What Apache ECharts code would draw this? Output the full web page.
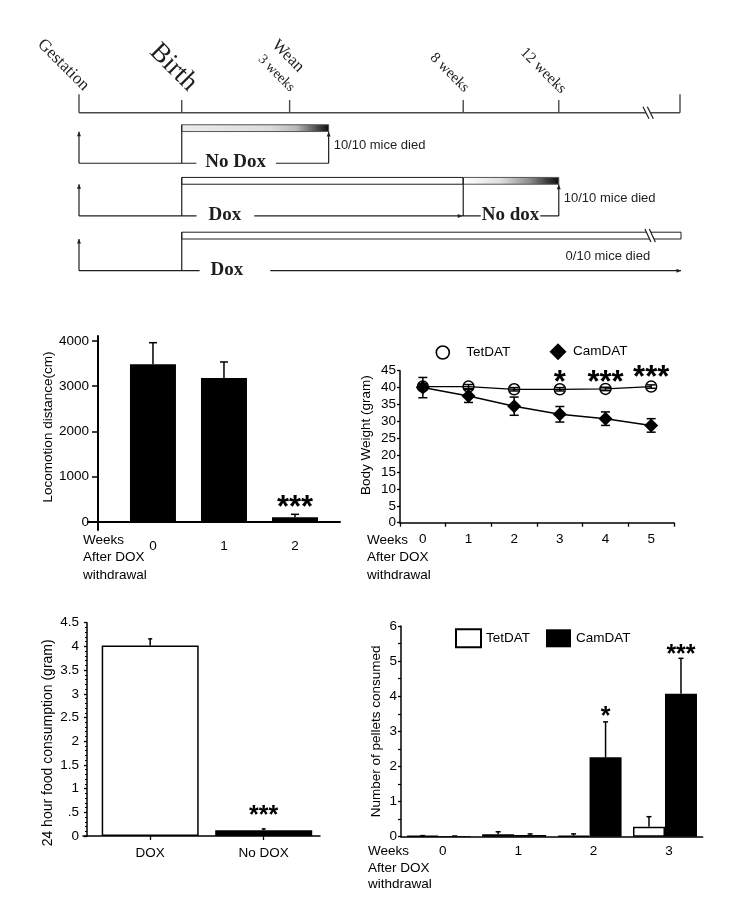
<!DOCTYPE html>
<html>
<head>
<meta charset="utf-8">
<script src="https://cdn.jsdelivr.net/npm/echarts@6/dist/echarts.min.js"></script>
<style>
html,body{margin:0;padding:0;background:#fff;}
#c{width:739px;height:900px;}
</style>
</head>
<body>
<div id="c"></div>
<script>
const SANS = '"Liberation Sans", Arial, Helvetica, sans-serif';
const SERIF = '"Liberation Serif", "Times New Roman", Times, serif';

// ---------- Timeline schematic (x = schematic position along life span) ----------
const milestoneTicks = [0, 10, 20.5, 37.4, 46.7, 58.5];
const milestoneLabels = ['Gestation', 'Birth', 'Wean', '3 weeks', '8 weeks', '12 weeks'];
const milestoneLabelPos = [0, 10, 20.5, 20.5, 37.4, 46.7];
const timelineBreak = 55.4;
const regimenRows = [0.96, 1.96, 3.0];
const regimenPhaseLabels = [['No Dox'], ['Dox', 'No dox'], ['Dox']];
const regimenPhaseFrom = [[10], [10, 37.4], [10]];
const regimenPhaseTo = [[24.3], [37.4, 46.7], [58.6]];
const regimenPhaseLabelAt = [[15.25], [14.2, 42.0], [14.4]];
const regimenPhaseDox = [[false], [true, false], [true]];
const regimenOutcome = ['10/10 mice died', '10/10 mice died', '0/10 mice died'];

// ---------- Panel A: locomotion ----------
const locWeeks = [0, 1, 2];
const locMean = [3485, 3182, 104];
const locErrTop = [3962, 3536, 170];
const locSig = ['', '', '***'];
const locSigPos = [null, null, 449];
const locTicks = [0, 1000, 2000, 3000, 4000];

// ---------- Panel B: body weight ----------
const bwWeeks = ['0', '1', '2', '3', '4', '5'];
const tetMean = [40.3, 40.3, 39.5, 39.5, 39.6, 40.3];
const tetErr = [0.8, 0.6, 0.5, 0.5, 0.5, 0.5];
const camMean = [40.0, 37.5, 34.5, 32.1, 30.8, 28.8];
const camErr = [3.0, 1.9, 2.7, 2.3, 2.0, 2.0];
const bwSig = ['', '', '', '*', '***', '***'];
const bwSigPos = [null, null, null, 43.2, 43.2, 44.8];

// ---------- Panel C: food consumption ----------
const foodGroups = ['DOX', 'No DOX'];
const foodMean = [4.02, 0.12];
const foodErrTop = [4.16, 0.15];
const foodSig = ['', '***'];
const foodSigPos = [null, 0.55];

// ---------- Panel D: pellets ----------
const pelletWeeks = ['0', '1', '2', '3'];
const pelletTet = [0.02, 0.07, 0.03, 0.285];
const pelletTetErrTop = [0.03, 0.14, 0.08, 0.57];
const pelletCam = [0.02, 0.05, 2.26, 4.07];
const pelletCamErrTop = [0.02, 0.08, 3.27, 5.08];
const pelletSig = ['', '', '*', '***'];
const pelletSigPos = [null, null, 3.56, 5.34];

// ---------- styles ----------
const INK = '#1e1e1e';
const LBL = {color: '#000', fontFamily: SANS, fontSize: 13.5};
const NAME = {color: '#000', fontFamily: SANS, fontSize: 13.5};
const AXL = (w) => ({color: '#000', width: w || 1.5});
const LABEL_STYLE = {
  'Gestation': {dx: -15.7, dy: -47.7, size: 17},
  'Birth': {dx: -8.4, dy: -45.4, size: 27},
  'Wean': {dx: -1.7, dy: -56.7, size: 17},
  '3 weeks': {dx: -13.3, dy: -39.4, size: 14},
  '8 weeks': {dx: -13.7, dy: -40, size: 15},
  '12 weeks': {dx: -15.7, dy: -42, size: 15.5}
};
const PHASE_PAD = {'0-0': [9, 10], '1-0': [12, 13], '1-1': [1, 1], '2-0': [11, 27]};
const BAR_TOP = -38.5, BAR_H = 6.8, ARROW_TOP = -31.6;

function seg(x1, y1, x2, y2, w, c) {
  return {type: 'line', shape: {x1, y1, x2, y2}, style: {stroke: c || INK, lineWidth: w || 1.2}};
}
function arrowHead(x, y, dir) {
  const L = 4.5, W = 2;
  const pts = dir === 'up' ? [[x, y], [x - W, y + L], [x + W, y + L]] : [[x, y], [x - L, y - W], [x - L, y + W]];
  return {type: 'polygon', shape: {points: pts}, style: {fill: INK}};
}
function breakMark(x, y, h) {
  const a = 2.2, s = 3;
  return [
    {type: 'polygon', shape: {points: [[x - a - s, y - h / 2], [x + a - s, y - h / 2], [x + a + s, y + h / 2], [x - a + s, y + h / 2]]}, style: {fill: '#fff'}},
    seg(x - a - s, y - h / 2, x - a + s, y + h / 2, 1.2),
    seg(x + a - s, y - h / 2, x + a + s, y + h / 2, 1.2)
  ];
}
function fade(early) {
  return new echarts.graphic.LinearGradient(0, 0, 1, 0, early ? [
    {offset: 0, color: '#ececec'}, {offset: 0.6, color: '#dcdcdc'}, {offset: 0.78, color: '#b8b8b8'},
    {offset: 0.92, color: '#4a4a4a'}, {offset: 1, color: '#0a0a0a'}
  ] : [
    {offset: 0, color: '#ffffff'}, {offset: 0.4, color: '#dedede'}, {offset: 0.7, color: '#8a8a8a'},
    {offset: 0.9, color: '#333'}, {offset: 1, color: '#0a0a0a'}
  ]);
}

function renderTimeline(params, api) {
  const children = [];
  const idx = params.dataIndex;
  if (idx === 0) {
    const yA = api.coord([0, 0])[1];
    const xs = v => api.coord([v, 0])[0];
    const last = milestoneTicks.length - 1;
    children.push(seg(xs(milestoneTicks[0]), yA, xs(milestoneTicks[last]), yA, 1.6, '#4a4a4a'));
    milestoneTicks.forEach((t, i) => {
      const h = (i === 0 || i === last) ? 18.4 : 12.7;
      children.push(seg(xs(t), yA, xs(t), yA - h, 1.4, '#4a4a4a'));
    });
    breakMark(xs(timelineBreak), yA, 12).forEach(c => children.push(c));
    milestoneLabels.forEach((lab, i) => {
      const s = LABEL_STYLE[lab];
      children.push({
        type: 'text', x: xs(milestoneLabelPos[i]) + s.dx, y: yA + s.dy, rotation: -Math.PI / 4,
        style: {text: lab, fontFamily: SERIF, fontSize: s.size, fill: INK, align: 'center', verticalAlign: 'middle'}
      });
    });
  } else {
    const r = idx - 1;
    const yv = regimenRows[r];
    const yB = api.coord([0, yv])[1];
    const x = v => api.coord([v, yv])[0];
    const n = regimenPhaseFrom[r].length;
    const start = regimenPhaseFrom[r][0];
    const end = regimenPhaseTo[r][n - 1];
    const lastDox = regimenPhaseDox[r][n - 1];
    for (let p = 0; p < n; p++) {
      const a = x(regimenPhaseFrom[r][p]), b = x(regimenPhaseTo[r][p]);
      const dox = regimenPhaseDox[r][p];
      children.push({
        type: 'rect', shape: {x: a, y: yB + BAR_TOP, width: b - a, height: BAR_H},
        style: {fill: dox ? '#fff' : fade(p === 0), stroke: dox ? INK : '#555', lineWidth: 1}
      });
    }
    children.push(seg(x(0), yB, x(0), yB + ARROW_TOP));
    children.push(arrowHead(x(0), yB + ARROW_TOP, 'up'));
    children.push(seg(x(start), yB, x(start), yB + BAR_TOP));
    children.push(seg(x(0), yB, x(end), yB));
    for (let p = 0; p < n - 1; p++) {
      const t = x(regimenPhaseTo[r][p]);
      children.push(seg(t, yB, t, yB + BAR_TOP));
      children.push(arrowHead(t - 1, yB, 'right'));
    }
    if (!lastDox) {
      children.push(seg(x(end), yB, x(end), yB + BAR_TOP + BAR_H));
      children.push(arrowHead(x(end), yB + BAR_TOP + BAR_H + 0.5, 'up'));
    } else {
      children.push(arrowHead(x(end), yB, 'right'));
    }
    if (end > timelineBreak) {
      breakMark(x(timelineBreak) + 2, yB + BAR_TOP + BAR_H / 2, 13).forEach(c => children.push(c));
    }
    for (let p = 0; p < n; p++) {
      const pad = PHASE_PAD[r + '-' + p];
      children.push({
        type: 'text', x: x(regimenPhaseLabelAt[r][p]) + (pad[1] - pad[0]) / 2, y: yB - 1,
        style: {
          text: regimenPhaseLabels[r][p], fontFamily: SERIF, fontWeight: 'bold', fontSize: 19, fill: INK,
          align: 'center', verticalAlign: 'middle', backgroundColor: '#fff', padding: [1, pad[1], 1, pad[0]]
        }
      });
    }
    if (!lastDox) {
      children.push({type: 'text', x: x(end) + 5, y: yB - 18,
        style: {text: regimenOutcome[r], fontFamily: SANS, fontSize: 13, fill: INK, align: 'left', verticalAlign: 'middle'}});
    } else {
      children.push({type: 'text', x: x(timelineBreak) + 2, y: yB - 14,
        style: {text: regimenOutcome[r], fontFamily: SANS, fontSize: 13, fill: INK, align: 'right', verticalAlign: 'middle'}});
    }
  }
  return {type: 'group', children};
}

function errorSeries(ai, rows, cap, dx, both, z) {
  return {
    type: 'custom', xAxisIndex: ai, yAxisIndex: ai, silent: true, z: z || 3, clip: false,
    data: rows, encode: {x: 0, y: [1, 2]},
    renderItem: (params, api) => {
      const xv = api.value(0);
      const p1 = api.coord([xv, api.value(1)]);
      const p2 = api.coord([xv, api.value(2)]);
      const cx = p1[0] + dx;
      const ch = [seg(cx, p1[1], cx, p2[1], 1.5, '#000'), seg(cx - cap / 2, p2[1], cx + cap / 2, p2[1], 1.5, '#000')];
      if (both) ch.push(seg(cx - cap / 2, p1[1], cx + cap / 2, p1[1], 1.5, '#000'));
      return {type: 'group', children: ch};
    }
  };
}
function starSeries(ai, xs, sig, pos, fontSize, dx) {
  const rows = [], texts = [];
  sig.forEach((s, i) => { if (s) { rows.push([xs[i], pos[i]]); texts.push(s); } });
  return {
    type: 'custom', xAxisIndex: ai, yAxisIndex: ai, silent: true, z: 4, clip: false,
    data: rows, encode: {x: 0, y: 1},
    renderItem: (params, api) => {
      const p = api.coord([api.value(0), api.value(1)]);
      return {type: 'text', x: p[0] + dx, y: p[1] + 0.23 * fontSize,
        style: {text: texts[params.dataIndex], fill: '#000', fontFamily: SANS, fontWeight: 'bold', fontSize: fontSize, align: 'center', verticalAlign: 'middle'}};
    }
  };
}

const chart = echarts.init(document.getElementById('c'), null, {renderer: 'canvas'});
const idxB = bwWeeks.map((w, i) => i);
const idxD = pelletWeeks.map((w, i) => i);
const idxC = foodGroups.map((g, i) => i);

const option = {
  animation: false,
  backgroundColor: '#fff',
  grid: [
    {left: 88, top: 336, width: 252, height: 194, containLabel: false, outerBoundsMode: 'none'},
    {left: 400, top: 370.7, width: 274, height: 152, containLabel: false, outerBoundsMode: 'none'},
    {left: 83, top: 622.7, width: 237, height: 213.3, containLabel: false, outerBoundsMode: 'none'},
    {left: 401, top: 626, width: 301.7, height: 210.7, containLabel: false, outerBoundsMode: 'none'},
    {left: 79, top: 112.7, width: 601, height: 158, containLabel: false, outerBoundsMode: 'none'}
  ],
  legend: [
    {data: [{name: 'TetDAT', icon: 'circle', itemStyle: {color: '#fff', borderColor: '#000', borderWidth: 1.6}}],
     left: 430.5, top: 340.2, itemWidth: 13, itemHeight: 13, selectedMode: false,
     textStyle: Object.assign({}, LBL, {padding: [0, 0, 0, 12]})},
    {data: [{name: 'CamDAT', icon: 'diamond', itemStyle: {color: '#000'}}],
     left: 544.5, top: 338.2, itemWidth: 17, itemHeight: 17, selectedMode: false,
     textStyle: Object.assign({}, LBL, {padding: [0, 0, 0, 1.5]})},
    {data: [{name: 'TetDAT ', icon: 'rect', itemStyle: {color: '#fff', borderColor: '#000', borderWidth: 2}},
            {name: 'CamDAT ', icon: 'rect', itemStyle: {color: '#000'}}],
     left: 450, top: 623.3, itemWidth: 25, itemHeight: 18, itemGap: 16, selectedMode: false,
     formatter: n => n.trim(), textStyle: LBL}
  ],
  xAxis: [
    {gridIndex: 0, type: 'value', min: -0.915, max: 2.634, splitLine: {show: false},
     axisLine: {show: true, onZero: true, lineStyle: AXL(2)}, axisTick: {show: false},
     axisLabel: Object.assign({customValues: locWeeks, margin: 9, formatter: v => String(v)}, LBL)},
    {gridIndex: 1, type: 'category', data: bwWeeks, boundaryGap: true,
     axisLine: {show: true, lineStyle: AXL(1.5)},
     axisTick: {show: true, length: 4, lineStyle: AXL(1.3)},
     axisLabel: Object.assign({margin: 10, interval: 0}, LBL)},
    {gridIndex: 2, type: 'value', min: -0.592, max: 1.496, splitLine: {show: false},
     axisLine: {show: true, onZero: true, lineStyle: AXL(1.5)},
     axisTick: {show: true, customValues: idxC, length: 4, lineStyle: AXL(1.3)},
     axisLabel: Object.assign({customValues: idxC, margin: 10, formatter: v => foodGroups[Math.round(v)]}, LBL)},
    {gridIndex: 3, type: 'category', data: pelletWeeks, boundaryGap: true,
     axisLine: {show: true, lineStyle: AXL(1.5)}, axisTick: {show: false},
     axisLabel: Object.assign({margin: 8, interval: 0, padding: [0, 0, 0, 8]}, LBL)},
    {gridIndex: 4, type: 'value', min: 0, max: 58.5, show: false}
  ],
  yAxis: [
    {gridIndex: 0, type: 'value', min: -177, max: 4110, offset: -10, splitLine: {show: false},
     axisLine: {show: true, onZero: false, lineStyle: AXL(2)},
     axisTick: {show: true, customValues: locTicks, length: 6, lineStyle: AXL(1.5)},
     axisLabel: Object.assign({customValues: locTicks, margin: 9, formatter: v => String(v)}, LBL),
     name: 'Locomotion distance(cm)', nameLocation: 'middle', nameGap: 41,
     nameTextStyle: Object.assign({}, NAME, {padding: [0, 0, 0, 12]})},
    {gridIndex: 1, type: 'value', min: 0, max: 45, interval: 5, splitLine: {show: false},
     axisLine: {show: true, lineStyle: AXL(1.5)},
     axisTick: {show: true, length: 3, lineStyle: AXL(1.3)},
     axisLabel: Object.assign({margin: 4}, LBL),
     name: 'Body Weight (gram)', nameLocation: 'middle', nameGap: 27,
     nameTextStyle: Object.assign({}, NAME, {padding: [0, 0, 0, 23]})},
    {gridIndex: 2, type: 'value', min: 0, max: 4.5, interval: 0.5, offset: -4, splitLine: {show: false},
     axisLine: {show: true, onZero: false, lineStyle: AXL(1.5)},
     axisTick: {show: true, length: 3, lineStyle: AXL(1.3)},
     minorTick: {show: true, splitNumber: 5, length: 2, lineStyle: AXL(1)},
     axisLabel: Object.assign({margin: 8, formatter: v => v === 0 ? '0' : String(v).replace(/^0\./, '.')}, LBL),
     name: '24 hour food consumption (gram)', nameLocation: 'middle', nameGap: 32,
     nameTextStyle: Object.assign({}, NAME, {fontSize: 14, padding: [0, 27, 0, 0]})},
    {gridIndex: 3, type: 'value', min: 0, max: 6, interval: 1, splitLine: {show: false},
     axisLine: {show: true, lineStyle: AXL(1.5)},
     axisTick: {show: true, length: 3, lineStyle: AXL(1.3)},
     minorTick: {show: true, splitNumber: 2, length: 3, lineStyle: AXL(1.2)},
     axisLabel: Object.assign({margin: 4}, LBL),
     name: 'Number of pellets consumed', nameLocation: 'middle', nameGap: 18,
     nameTextStyle: NAME},
    {gridIndex: 4, type: 'value', min: 0, max: 3, inverse: true, show: false}
  ],
  graphic: [
    {type: 'text', left: 83, top: 531.5, silent: true, style: {text: 'Weeks\nAfter DOX\nwithdrawal', fontFamily: SANS, fontSize: 13.5, lineHeight: 17.5, fill: '#000'}},
    {type: 'text', left: 367, top: 531.5, silent: true, style: {text: 'Weeks\nAfter DOX\nwithdrawal', fontFamily: SANS, fontSize: 13.5, lineHeight: 17.5, fill: '#000'}},
    {type: 'text', left: 368, top: 843.5, silent: true, style: {text: 'Weeks\nAfter DOX\nwithdrawal', fontFamily: SANS, fontSize: 13.5, lineHeight: 16.3, fill: '#000'}}
  ],
  series: [
    {type: 'bar', xAxisIndex: 0, yAxisIndex: 0, barWidth: 46, itemStyle: {color: '#000'},
     data: locWeeks.map((w, i) => [w, locMean[i]])},
    errorSeries(0, locWeeks.map((w, i) => [w, locMean[i], locErrTop[i]]), 8, 0, false),
    starSeries(0, locWeeks, locSig, locSigPos, 31, 0),
    errorSeries(1, idxB.map(i => [i, tetMean[i] - tetErr[i], tetMean[i] + tetErr[i]]), 9, 0, true, 1),
    errorSeries(1, idxB.map(i => [i, camMean[i] - camErr[i], camMean[i] + camErr[i]]), 9, 0, true, 1),
    {type: 'line', name: 'TetDAT', xAxisIndex: 1, yAxisIndex: 1, data: tetMean, z: 2,
     symbol: 'circle', symbolSize: 11,
     itemStyle: {color: 'rgba(255,255,255,0)', borderColor: '#000', borderWidth: 1.5},
     lineStyle: {color: '#000', width: 1.3}},
    {type: 'line', name: 'CamDAT', xAxisIndex: 1, yAxisIndex: 1, data: camMean, z: 3,
     symbol: 'diamond', symbolSize: 14, itemStyle: {color: '#000'},
     lineStyle: {color: '#000', width: 1.5}},
    starSeries(1, idxB, bwSig, bwSigPos, 31, 0),
    {type: 'bar', xAxisIndex: 2, yAxisIndex: 2, barWidth: 97,
     data: idxC.map(i => ({value: [i, foodMean[i]],
       itemStyle: i === 0 ? {color: '#fff', borderColor: '#000', borderWidth: 1.5} : {color: '#000'}}))},
    errorSeries(2, idxC.map(i => [i, foodMean[i], foodErrTop[i]]), 4, 0, false),
    starSeries(2, idxC, foodSig, foodSigPos, 25, 0),
    {type: 'bar', name: 'TetDAT ', xAxisIndex: 3, yAxisIndex: 3, data: pelletTet, barWidth: 32, barGap: '0%',
     itemStyle: {color: '#fff', borderColor: '#000', borderWidth: 1.5}},
    {type: 'bar', name: 'CamDAT ', xAxisIndex: 3, yAxisIndex: 3, data: pelletCam, barWidth: 32, barGap: '0%',
     itemStyle: {color: '#000'}},
    errorSeries(3, idxD.map(i => [i, pelletTet[i], pelletTetErrTop[i]]), 5, -16, false),
    errorSeries(3, idxD.map(i => [i, pelletCam[i], pelletCamErrTop[i]]), 5, 16, false),
    starSeries(3, idxD, pelletSig, pelletSigPos, 25, 16),
    {type: 'custom', xAxisIndex: 4, yAxisIndex: 4, silent: true, clip: false,
     data: [[0, 0]].concat(regimenRows.map(r => [0, r])), encode: {x: 0, y: 1},
     renderItem: renderTimeline}
  ]
};
chart.setOption(option);
</script>
</body>
</html>
